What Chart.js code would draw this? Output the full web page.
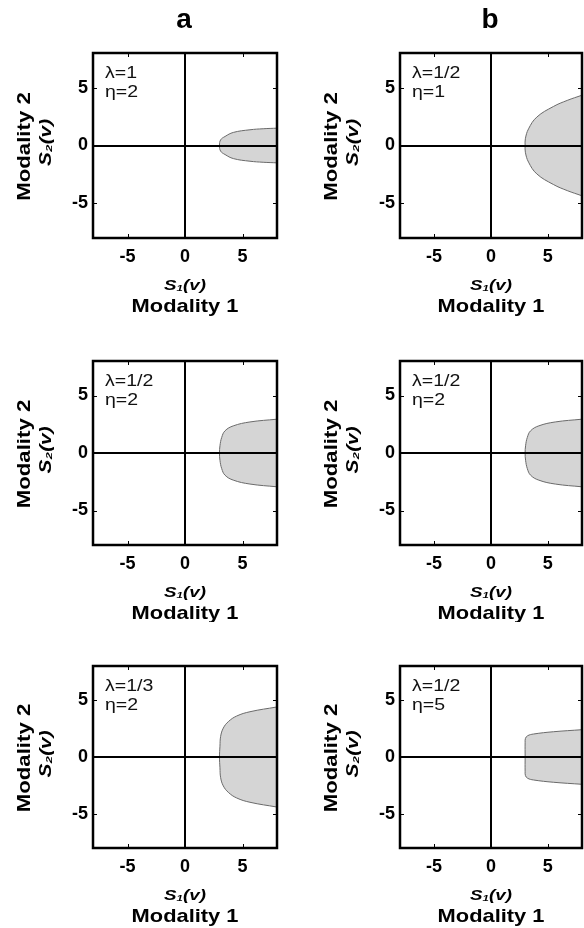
<!DOCTYPE html>
<html><head><meta charset="utf-8">
<script src="https://cdn.jsdelivr.net/npm/chart.js@4/dist/chart.umd.min.js"></script>
<style>
html,body{margin:0;padding:0;background:#fff;overflow:hidden;width:584px;height:928px;position:relative}
canvas.p{position:absolute}
</style></head><body>
<script>
// ---------- data ----------
const columnLetters = ['a', 'b'];
const lambdaLabels = ['λ=1', 'λ=1/2', 'λ=1/3', 'λ=1/2', 'λ=1/2', 'λ=1/2'];
const etaLabels    = ['η=2', 'η=2',   'η=2',   'η=1',   'η=2',   'η=5'];
const tickValues = [-5, 0, 5];
const tickLabels = ['-5', '0', '5'];
const axisMin = -8, axisMax = 8;
const xTitle = 'Modality 1', yTitle = 'Modality 2';
const xSub = 'S₁(v)', ySub = 'S₂(v)';

// upper half of the shaded region boundary, S1 values and S2 values (region symmetric about S2 = 0)
const a1S1 = [3.0, 3.1, 3.48, 4.2, 5.65, 6.8, 8.0];
const a1S2 = [0, 0.49, 0.78, 1.13, 1.36, 1.45, 1.5];
const a2S1 = [3.0, 3.04, 3.19, 3.48, 4.2, 5.65, 8.0];
const a2S2 = [0, 0.63, 1.35, 1.93, 2.36, 2.7, 2.94];
const a3S1 = [3.0, 3.04, 3.1, 3.33, 3.77, 4.49, 5.65, 8.0];
const a3S2 = [0, 0.95, 1.82, 2.54, 3.11, 3.6, 3.98, 4.4];
const b1S1 = [3.0, 3.02, 3.3, 4.03, 5.48, 6.7, 8.0];
const b1S2 = [0, 0.58, 1.44, 2.46, 3.37, 3.9, 4.35];
const b2S1 = [3.0, 3.04, 3.19, 3.48, 4.2, 5.65, 8.0];
const b2S2 = [0, 0.63, 1.35, 1.93, 2.36, 2.7, 2.94];
const b3S1 = [3.0, 3.0, 3.03, 3.22, 3.74, 5.48, 8.0];
const b3S2 = [0, 1.3, 1.64, 1.87, 2.02, 2.22, 2.4];

const panelS1 = [a1S1, a2S1, a3S1, b1S1, b2S1, b3S1];
const panelS2 = [a1S2, a2S2, a3S2, b1S2, b2S2, b3S2];

// ---------- layout (pixels) ----------
const FONT = '"Liberation Sans", Arial, Helvetica, sans-serif';
const colBoxes = [
  {left: 0,   width: 292, plotL: 93,  plotR: 277},
  {left: 300, width: 284, plotL: 400, plotR: 582}
];
const rowBoxes = [
  {top: 0,   plotT: 53,  plotB: 238},
  {top: 306, plotT: 361, plotB: 545},
  {top: 612, plotT: 666, plotB: 848}
];
const CH = 316;

Chart.defaults.font.family = FONT;

function closedBoundary(s1, s2) {
  const pts = [];
  for (let i = s1.length - 1; i >= 0; i--) pts.push({x: s1[i], y: s2[i]});
  for (let i = 1; i < s1.length; i++) pts.push({x: s1[i], y: -s2[i]});
  return pts;
}

// draw text horizontally widened (the original figure's lettering is wide)
function wideText(ctx, text, x, y, sx, rot) {
  ctx.save();
  ctx.translate(x, y);
  if (rot) ctx.rotate(rot);
  ctx.scale(sx, 1);
  ctx.fillText(text, 0, 0);
  ctx.restore();
}

const panelDecor = {
  id: 'panelDecor',
  afterDraw(chart, args, o) {
    const {ctx, chartArea: ca, scales} = chart;
    ctx.save();
    // inside tick marks
    ctx.strokeStyle = '#000'; ctx.lineWidth = 1;
    tickValues.forEach(v => {
      const px = Math.round(scales.x.getPixelForValue(v)) + 0.5;
      const py = Math.round(scales.y.getPixelForValue(v)) + 0.5;
      ctx.beginPath();
      ctx.moveTo(px, ca.top); ctx.lineTo(px, ca.top + 4);
      ctx.moveTo(px, ca.bottom); ctx.lineTo(px, ca.bottom - 4);
      ctx.moveTo(ca.left, py); ctx.lineTo(ca.left + 4, py);
      ctx.moveTo(ca.right, py); ctx.lineTo(ca.right - 4, py);
      ctx.stroke();
    });
    // frame
    ctx.lineWidth = 2.5;
    ctx.strokeRect(ca.left, ca.top, ca.right - ca.left, ca.bottom - ca.top);
    // annotations
    ctx.fillStyle = '#111';
    ctx.font = '16px ' + FONT;
    ctx.textAlign = 'left'; ctx.textBaseline = 'middle';
    wideText(ctx, o.lam, ca.left + 12, ca.top + 21, 1.22);
    wideText(ctx, o.eta, ca.left + 12, ca.top + 40, 1.22);
    const cx = (ca.left + ca.right) / 2, cy = (ca.top + ca.bottom) / 2;
    ctx.fillStyle = '#000';
    ctx.textAlign = 'center';
    // x sub-label and title
    ctx.font = 'italic bold 15px ' + FONT;
    wideText(ctx, xSub, cx, ca.bottom + 48, 1.25);
    ctx.font = 'bold 19px ' + FONT;
    wideText(ctx, xTitle, cx, ca.bottom + 69, 1.15);
    // y sub-label and title (rotated)
    ctx.font = 'italic bold 16px ' + FONT;
    wideText(ctx, ySub, ca.left - 46, cy - 3, 1.3, -Math.PI / 2);
    ctx.font = 'bold 19px ' + FONT;
    wideText(ctx, yTitle, ca.left - 68, cy + 1, 1.17, -Math.PI / 2);
    // column letter
    if (o.letter) {
      ctx.font = 'bold 28px ' + FONT;
      ctx.textBaseline = 'alphabetic';
      ctx.fillText(o.letter, cx - 1, ca.top - 25.5);
    }
    ctx.restore();
  }
};

for (let c = 0; c < 2; c++) {
  for (let r = 0; r < 3; r++) {
    const idx = c * 3 + r;
    const col = colBoxes[c], row = rowBoxes[r];
    const W = col.width;
    const chartLeft = col.plotL - col.left, chartRight = col.plotR - col.left;
    const chartTop = row.plotT - row.top, chartBottom = row.plotB - row.top;
    const cv = document.createElement('canvas');
    cv.className = 'p';
    cv.width = W; cv.height = CH;
    cv.style.left = col.left + 'px'; cv.style.top = row.top + 'px';
    cv.style.width = W + 'px'; cv.style.height = CH + 'px';
    document.body.appendChild(cv);

    const tickOpts = {
      autoSkip: false, maxRotation: 0, color: '#000',
      font: {family: FONT, size: 18, weight: 'bold'},
      callback: v => tickLabels[tickValues.indexOf(v)]
    };
    const gridOpts = {
      drawTicks: false, lineWidth: 2, z: 1,
      color: ctx => (ctx.tick && ctx.tick.value === 0) ? '#000' : 'rgba(0,0,0,0)'
    };
    new Chart(cv, {
      type: 'scatter',
      data: {
        datasets: [{
          data: closedBoundary(panelS1[idx], panelS2[idx]),
          showLine: true, fill: 'shape', tension: 0.4,
          backgroundColor: '#d5d5d5', borderColor: '#6a6a6a', borderWidth: 1,
          pointRadius: 0
        }]
      },
      options: {
        responsive: false, animation: false, devicePixelRatio: 1,
        layout: {padding: {left: 0, top: chartTop, right: W - chartRight, bottom: 0}},
        plugins: {
          legend: {display: false}, tooltip: {enabled: false},
          panelDecor: {lam: lambdaLabels[idx], eta: etaLabels[idx], letter: r === 0 ? columnLetters[c] : ''}
        },
        scales: {
          x: {
            type: 'linear', position: 'bottom', min: axisMin, max: axisMax,
            afterBuildTicks: s => { s.ticks = tickValues.map(v => ({value: v})); },
            afterFit: s => { s.height = CH - chartBottom; },
            ticks: Object.assign({padding: 8}, tickOpts),
            grid: gridOpts, border: {display: false},
            title: {display: false, text: xTitle}
          },
          y: {
            type: 'linear', position: 'left', min: axisMin, max: axisMax,
            afterBuildTicks: s => { s.ticks = tickValues.map(v => ({value: v})); },
            afterFit: s => { s.width = chartLeft; },
            ticks: Object.assign({padding: 5}, tickOpts),
            grid: gridOpts, border: {display: false},
            title: {display: false, text: yTitle}
          }
        }
      },
      plugins: [panelDecor]
    });
  }
}
</script>
</body></html>
